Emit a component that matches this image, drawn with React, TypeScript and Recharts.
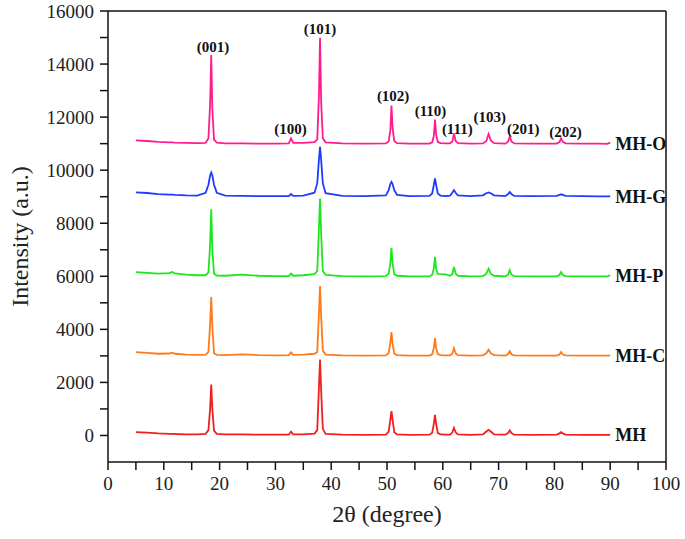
import React from "react";
import {
  LineChart,
  Line,
  XAxis,
  YAxis,
  ReferenceLine,
  ReferenceDot,
} from "recharts";

// 2θ positions (degree)
const twoTheta = [
  5, 7, 9, 11, 11.5, 12, 14, 16, 17.5, 18.0, 18.3, 18.5, 18.7, 19.0, 19.5, 21, 24, 27, 30,
  32.4, 32.8, 33.2, 35, 37.0, 37.5, 37.8, 38.0, 38.2, 38.5, 39.0, 42, 46, 49.8, 50.3, 50.6,
  50.8, 51.0, 51.3, 51.8, 54, 57.6, 58.1, 58.4, 58.6, 58.8, 59.1, 59.6, 60.5, 61.3, 61.7,
  62.0, 62.3, 62.7, 65, 67.2, 67.8, 68.2, 68.6, 69.2, 71.2, 71.7, 72.0, 72.3, 72.8, 76, 80.4,
  80.9, 81.2, 81.5, 82.0, 85, 88, 89.5, 90,
];

const mhO = [
  11120, 11100, 11070, 11050, 11050, 11040, 11030, 11020, 11030, 11200, 12500, 14340, 12300,
  11150, 11040, 11010, 11010, 11000, 11000, 11010, 11200, 11030, 11030, 11060, 11150, 12800,
  14990, 12600, 11200, 11050, 11010, 11000, 11010, 11080, 11500, 12440, 11600, 11100, 11020,
  11000, 11000, 11050, 11300, 11910, 11350, 11060, 11020, 11010, 11010, 11080, 11370, 11100,
  11020, 11000, 11010, 11100, 11360, 11120, 11020, 11000, 11070, 11270, 11080, 11010, 11000,
  11000, 11060, 11200, 11070, 11010, 11000, 11000, 10990, 11040,
];

const mhG = [
  9160, 9140, 9100, 9080, 9080, 9070, 9050, 9040, 9150, 9450, 9800, 9910, 9800, 9450, 9150,
  9040, 9030, 9020, 9020, 9020, 9100, 9030, 9040, 9150, 9500, 10400, 10880, 10400, 9500, 9130,
  9030, 9020, 9050, 9250, 9480, 9560, 9480, 9250, 9070, 9020, 9030, 9120, 9450, 9690, 9450,
  9120, 9040, 9020, 9040, 9150, 9250, 9150, 9050, 9020, 9050, 9130, 9160, 9130, 9050, 9020,
  9100, 9180, 9100, 9030, 9020, 9030, 9070, 9090, 9070, 9030, 9020, 9010, 9010, 9010,
];

const mhP = [
  6160, 6130, 6100, 6120, 6160, 6110, 6060, 6040, 6040, 6150, 7200, 8530, 7000, 6100, 6030,
  6020, 6060, 6020, 6010, 6010, 6100, 6020, 6040, 6080, 6200, 7800, 8930, 7600, 6200, 6050,
  6010, 6000, 6010, 6100, 6500, 7070, 6500, 6080, 6020, 6000, 6000, 6050, 6300, 6730, 6300,
  6090, 6080, 6070, 6020, 6080, 6350, 6100, 6020, 6000, 6010, 6100, 6290, 6100, 6020, 6000,
  6060, 6230, 6060, 6010, 6000, 6000, 6050, 6160, 6050, 6010, 6000, 6000, 6000, 6040,
];

const mhC = [
  3140, 3110, 3080, 3090, 3120, 3080, 3050, 3040, 3050, 3150, 4200, 5220, 4100, 3100, 3040,
  3030, 3060, 3030, 3020, 3030, 3130, 3040, 3050, 3080, 3150, 4600, 5630, 4500, 3200, 3050,
  3020, 3010, 3020, 3100, 3500, 3900, 3450, 3080, 3030, 3010, 3010, 3060, 3300, 3670, 3300,
  3070, 3030, 3020, 3020, 3080, 3290, 3100, 3030, 3010, 3020, 3100, 3230, 3100, 3030, 3010,
  3060, 3180, 3060, 3020, 3010, 3010, 3050, 3140, 3050, 3020, 3010, 3010, 3010, 3010,
];

const mh = [
  125, 110, 80, 60, 60, 55, 45, 40, 60, 200, 1000, 1920, 1000, 180, 60, 40, 40, 30, 30, 30,
  140, 40, 40, 70, 200, 1800, 2860, 1700, 250, 60, 30, 20, 30, 150, 600, 920, 600, 120, 40,
  20, 30, 100, 450, 780, 450, 100, 40, 30, 30, 110, 290, 120, 40, 20, 40, 150, 215, 150, 40,
  30, 90, 190, 90, 30, 20, 30, 80, 125, 80, 30, 20, 20, 20, 20,
];

const seriesNames = ["MH-O", "MH-G", "MH-P", "MH-C", "MH"];
const seriesKeys = ["mhO", "mhG", "mhP", "mhC", "mh"];
const seriesColors = ["#FF1C8D", "#1F3BFF", "#1EE61E", "#FF7A1A", "#F0201E"];
const seriesBaselines = [11000, 9020, 6020, 3020, 30];

// Miller index labels (text centre in data units)
const peakLabels = ["(001)", "(100)", "(101)", "(102)", "(110)", "(111)", "(103)", "(201)", "(202)"];
const peakLabelX = [18.8, 32.7, 38.0, 51.1, 57.8, 62.6, 68.4, 74.4, 82.0];
const peakLabelY = [14640, 11550, 15320, 12800, 12260, 11580, 12010, 11550, 11450];

const xTicks = [0, 5, 10, 15, 20, 25, 30, 35, 40, 45, 50, 55, 60, 65, 70, 75, 80, 85, 90, 95, 100];
const yTicks = [0, 1000, 2000, 3000, 4000, 5000, 6000, 7000, 8000, 9000, 10000, 11000, 12000, 13000, 14000, 15000, 16000];

const data = twoTheta.map((t, i) => ({
  t,
  mhO: mhO[i],
  mhG: mhG[i],
  mhP: mhP[i],
  mhC: mhC[i],
  mh: mh[i],
}));

const FONT = "'Liberation Serif', 'Times New Roman', serif";

const XTick = (props: any) => {
  const { x, y, payload } = props;
  if (payload.value % 10 !== 0) return <g />;
  return (
    <text x={x} y={y} dy="0.71em" textAnchor="middle" fontFamily={FONT} fontSize={19} fill="#222">
      {payload.value}
    </text>
  );
};

const YTick = (props: any) => {
  const { x, y, payload } = props;
  if (payload.value % 2000 !== 0) return <g />;
  return (
    <text x={x} y={y} dy="0.355em" textAnchor="end" fontFamily={FONT} fontSize={19} fill="#222">
      {payload.value}
    </text>
  );
};

export default function App() {
  return (
    <div style={{ position: "absolute", left: 0, top: 0, background: "#fff" }}>
      <LineChart width={685} height={539} data={data} margin={{ top: 11, right: 19, bottom: 0, left: 0 }}>
        <XAxis
          dataKey="t"
          type="number"
          domain={[0, 100]}
          ticks={xTicks}
          interval={0}
          tickSize={8}
          tickMargin={7}
          height={77}
          tick={XTick}
          axisLine={{ stroke: "#111", strokeWidth: 1.5 }}
          tickLine={{ stroke: "#111", strokeWidth: 1.5 }}
          label={{
            value: "2θ (degree)",
            position: "insideBottom",
            offset: 17,
            style: { fontFamily: FONT, fontSize: 24, fill: "#222" },
          }}
        />
        <YAxis
          type="number"
          domain={[-1000, 16000]}
          ticks={yTicks}
          interval={0}
          allowDataOverflow
          width={108}
          tickSize={8}
          tickMargin={6}
          tick={YTick}
          axisLine={{ stroke: "#111", strokeWidth: 1.5 }}
          tickLine={{ stroke: "#111", strokeWidth: 1.5 }}
          label={{
            value: "Intensity (a.u.)",
            angle: -90,
            position: "insideLeft",
            offset: 19,
            style: { fontFamily: FONT, fontSize: 24, fill: "#222", textAnchor: "middle" },
          }}
        />
        <ReferenceLine y={16000} stroke="#111" strokeWidth={1.5} />
        <ReferenceLine x={100} stroke="#111" strokeWidth={1.5} />
        {seriesKeys.map((k, i) => (
          <Line
            key={k}
            dataKey={k}
            type="linear"
            stroke={seriesColors[i]}
            strokeWidth={1.8}
            dot={false}
            isAnimationActive={false}
          />
        ))}
        {seriesNames.map((n, i) => (
          <ReferenceDot
            key={n}
            x={90}
            y={seriesBaselines[i]}
            r={0}
            fill="none"
            stroke="none"
            label={{
              value: n,
              position: "right",
              offset: 5,
              style: { fontFamily: FONT, fontSize: 18, fontWeight: "bold", fill: "#111" },
            }}
          />
        ))}
        {peakLabels.map((p, i) => (
          <ReferenceDot
            key={p}
            x={peakLabelX[i]}
            y={peakLabelY[i]}
            r={0}
            fill="none"
            stroke="none"
            label={{
              value: p,
              position: "center",
              style: { fontFamily: FONT, fontSize: 15, fontWeight: "bold", fill: "#111" },
            }}
          />
        ))}
      </LineChart>
    </div>
  );
}
